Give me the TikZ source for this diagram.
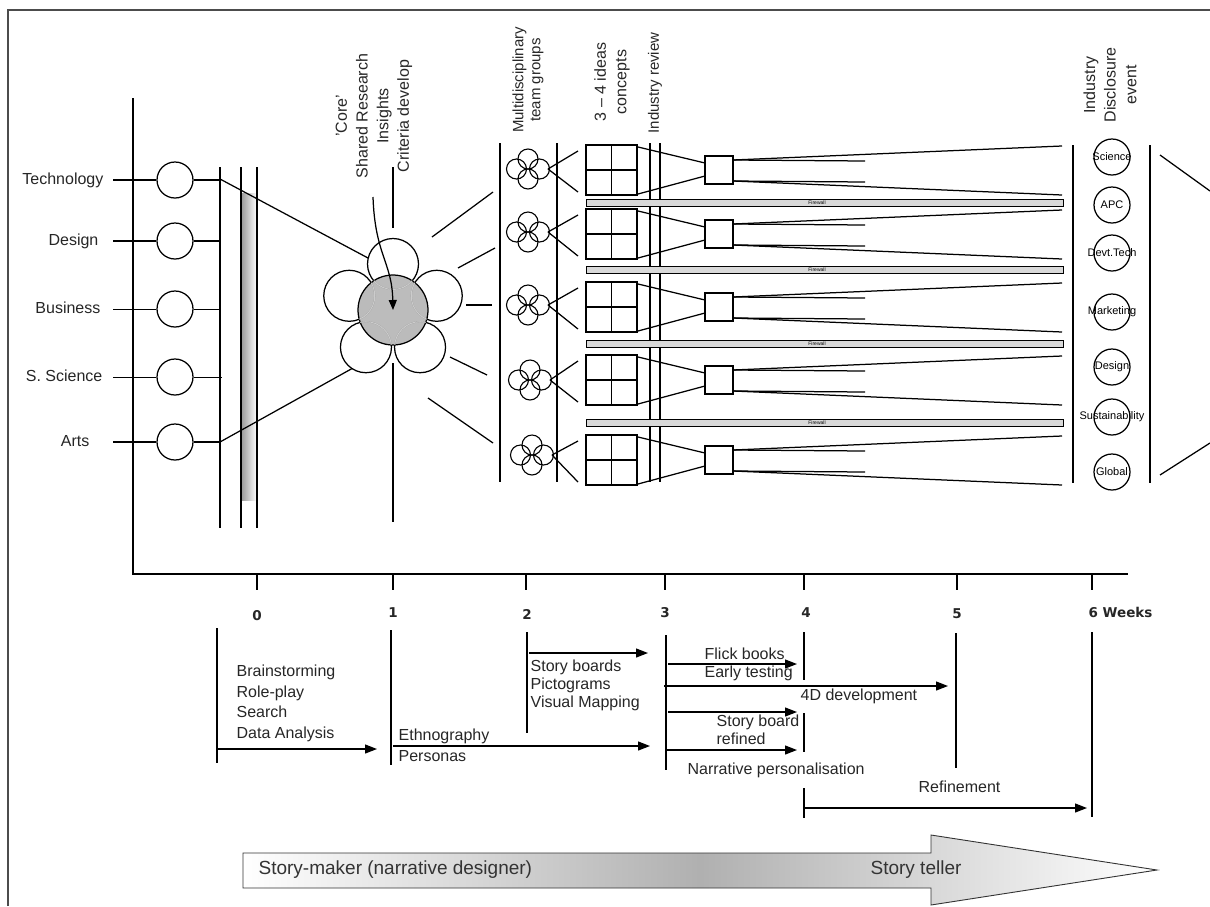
\documentclass[tikz,border=0pt]{standalone}
\usepackage{fontspec}
\setmainfont{Liberation Sans}
\newfontfamily\tickfont{DejaVu Sans}
\usetikzlibrary{arrows.meta,calc}
\begin{document}
\begin{tikzpicture}[x=1pt,y=-1pt,line width=1.25pt,
  lbl/.style={font=\fontsize{16}{20.7}\selectfont,inner sep=0pt,text height=11.5pt,text depth=3.5pt,anchor=west,text=black!85},
  lble/.style={lbl,anchor=east},
  rottxt/.style={rotate=90,align=center,inner sep=0pt,font=\fontsize{16}{20.7}\selectfont,text=black!85},
  ticklbl/.style={font=\tickfont\bfseries\fontsize{13.5}{15}\selectfont,inner sep=0pt,text=black!85},
  arr/.style={-{Triangle[length=12pt,width=9pt]},line width=1.25pt},
  pcirc/.style={circle,draw,fill=white,minimum size=36pt,inner sep=0pt},
  rcirc/.style={circle,draw,minimum size=36pt,inner sep=0pt},
  tiny/.style={font=\fontsize{11}{12}\selectfont,inner sep=0pt},
  wall/.style={draw,fill=gray!30,line width=0.9pt},
  thickl/.style={line width=1.7pt},
  thinl/.style={line width=1pt}]
\useasboundingbox (0,0) rectangle (1210,906);
% frame
\draw[gray!60!black,line width=1.5pt] (8,906) -- (8,10) -- (1210,10);
% axes
\draw (133,98) -- (133,574) -- (1128,574);
\foreach \x in {257,393,526,665,804,957,1092} \draw (\x,574) -- (\x,590);
\node[ticklbl] (w0) at (257,616) {0};
\node[ticklbl] (w1) at (393,613) {1};
\node[ticklbl] (w2) at (527,614) {2};
\node[ticklbl] (w3) at (665,613) {3};
\node[ticklbl] (w4) at (806,613) {4};
\node[ticklbl] (w5) at (957,614) {5};
\node[ticklbl,anchor=west] (w6) at (1088,612) {6 Weeks};
% left disciplines
\shade[left color=gray!80,right color=white] (241,193) rectangle (257,500);
\draw (220,167) -- (220,528);
\draw (241,167) -- (241,528);
\draw (257,167) -- (257,528);
\node[lble] (ltech) at (104,180) {Technology};
\node[lble] (ldes) at (99,241) {Design};
\node[lble] (lbus) at (101,309) {Business};
\node[lble] (lsci) at (103,377) {S. Science};
\node[lble] (larts) at (90,442) {Arts};
\node[pcirc] (ctech) at (175,180) {};
\node[pcirc] (cdes) at (175,241) {};
\node[pcirc] (cbus) at (175,309) {};
\node[pcirc] (csci) at (175,377) {};
\node[pcirc] (carts) at (175,442) {};
\draw[thickl] (113,180) -- (ctech.west); \draw[thickl] (ctech.east) -- (220,180);
\draw[thickl] (113,241) -- (cdes.west); \draw[thickl] (cdes.east) -- (220,241);
\draw[thinl] (113,309) -- (cbus.west); \draw[thinl] (cbus.east) -- (220,309);
\draw[thinl] (113,377) -- (csci.west); \draw[thinl] (csci.east) -- (222,377);
\draw[thickl] (113,442) -- (carts.west); \draw[thickl] (carts.east) -- (220,442);
% funnel to flower
\draw (220,179) -- (368,258);
\draw (220,442) -- (353,368);
% flower
\coordinate (fc) at (393,310);
\foreach \a in {-90,-18,-162,54,126}
  \node[circle,draw,fill=white,minimum size=51pt,inner sep=0pt] at ($(fc)+(\a:46)$) {};
\node[circle,draw,fill=gray!62,fill opacity=0.85,minimum size=70pt,inner sep=0pt] (core) at (fc) {};
\begin{scope}
  \clip (fc) circle (35);
  \foreach \a in {-90,-18,-162,54,126}
    \draw[gray!40,line width=1pt] ($(fc)+(\a:46)$) circle (25.5);
\end{scope}
\draw (393,167) -- (393,228);
\draw (393,363) -- (393,522);
\draw (432,237) -- (493,192);
\draw (458,268) -- (495,248);
\draw (466,305) -- (492,305);
\draw (450,357) -- (487,375);
\draw (428,398) -- (493,443);
\node[rottxt] (coretxt) at (374,116) {'Core'\\Shared Research\\Insights\\Criteria develop};
\coordinate (arrstart) at (373,197);
\draw[-{Triangle[length=10pt,width=8pt]}] (arrstart) .. controls (375,255) and (392,262) .. (core.center);
% team groups
\node[rottxt,font=\fontsize{15}{17}\selectfont] (multi) at (528,80) {Multidisciplinary\\team groups};
\node[rottxt] (ideas) at (612,82) {3 -- 4 ideas\\concepts};
\node[rottxt,font=\fontsize{15}{17}\selectfont] (irev) at (655,83) {Industry review};
\draw (500,143) -- (500,482);
\draw (557,143) -- (557,482);
\draw (650,143) -- (650,482);
\draw (660,143) -- (660,482);
\foreach \b in {202.5,270,344,422.5} {
  \draw[wall] (586,\b-3.5) rectangle (1063,\b+3.5);
  \node[font=\fontsize{5}{5}\selectfont,inner sep=0pt] at (817,\b) {Firewall};
}
\foreach \t/\c/\cx in {145/169/528,209/232/528,282/305/528,355/380/530,435/455/532} {
  \pgfmathsetmacro\bc{\t+25}
  \draw[line width=1.1pt] (\cx-11.5,\c) circle (10);
  \draw[line width=1.1pt] (\cx+11.5,\c) circle (10);
  \draw[line width=1.1pt] (\cx,\c-10) circle (10);
  \draw[line width=1.1pt] (\cx,\c+10) circle (10);
  \draw (\cx+20,\c) -- (578,\t+6);
  \draw (\cx+20,\c) -- (578,\t+47);
  \draw[fill=white] (586,\t) rectangle (637,\t+50);
  \draw (611.5,\t) -- (611.5,\t+50);
  \draw (586,\t+25) -- (637,\t+25);
  \draw (638,\t+2) -- (705,\bc-7);
  \draw (638,\t+49) -- (705,\bc+6);
  \draw[fill=white] (705,\bc-14) rectangle (733,\bc+14);
  \draw (733,\bc-10) -- (865,\bc-9);
  \draw (733,\bc-10) -- (1062,\bc-24);
  \draw (733,\bc+11) -- (865,\bc+12);
  \draw (733,\bc+11) -- (1062,\bc+25);
}
% industry disclosure
\node[rottxt] (idis) at (1110,85) {Industry\\Disclosure\\event};
\draw (1073,145) -- (1073,483);
\draw (1150,145) -- (1150,483);
\foreach \y/\t [count=\i] in {157/Science,205/APC,253/Devt.Tech,312/Marketing,367/Design,417/Sustainability,472/Global} {
  \node[rcirc] (r\i) at (1112,\y) {};
  \node[tiny] at (r\i) {\t};
}
\draw (1160,155) -- (1210,191);
\draw (1160,475) -- (1210,443);
% timeline
\draw (217,628) -- (217,763);
\draw (391,630) -- (391,765);
\draw (527,632) -- (527,733);
\draw (666,635) -- (666,770);
\draw (804,632) -- (804,680);
\draw (804,713) -- (804,752);
\draw (804,788) -- (804,818);
\draw (956,633) -- (956,768);
\draw (1092,632) -- (1092,817);
\node[lbl] at (236,672) {Brainstorming};
\node[lbl] at (236,693) {Role-play};
\node[lbl] at (236,713) {Search};
\node[lbl] at (236,734) {Data Analysis};
\node[lbl] at (398,736) {Ethnography};
\node[lbl] at (398,757) {Personas};
\node[lbl] at (530,667) {Story boards};
\node[lbl] at (530,685) {Pictograms};
\node[lbl] at (530,703) {Visual Mapping};
\node[lbl] at (704,655) {Flick books};
\node[lbl] at (704,673) {Early testing};
\node[lbl] at (800,696) {4D development};
\node[lbl] at (716,722) {Story board};
\node[lbl] at (716,740) {refined};
\node[lbl] at (687,770) {Narrative personalisation};
\node[lbl] at (918,788) {Refinement};
\draw[arr] (217,749) -- (377,749);
\draw[arr] (393,746) -- (650,746);
\draw[arr] (529,653) -- (648,653);
\draw[arr] (668,664) -- (797,664);
\draw[arr] (664,686) -- (948,686);
\draw[arr] (668,712) -- (797,712);
\draw[arr] (666,750) -- (797,750);
\draw[arr] (804,808) -- (1087,808);
% big arrow
\shade[left color=white,right color=white,middle color=gray!62,draw=gray!40!black,line width=0.9pt]
  (243,853) -- (931,853) -- (931,835) -- (1157,870) -- (931,905) -- (931,888) -- (243,888) -- cycle;
\node[lbl,font=\fontsize{19}{22}\selectfont,text=black!80] at (258,870) {Story-maker (narrative designer)};
\node[lbl,font=\fontsize{19}{22}\selectfont,text=black!80] at (870,870) {Story teller};
\end{tikzpicture}
\end{document}
